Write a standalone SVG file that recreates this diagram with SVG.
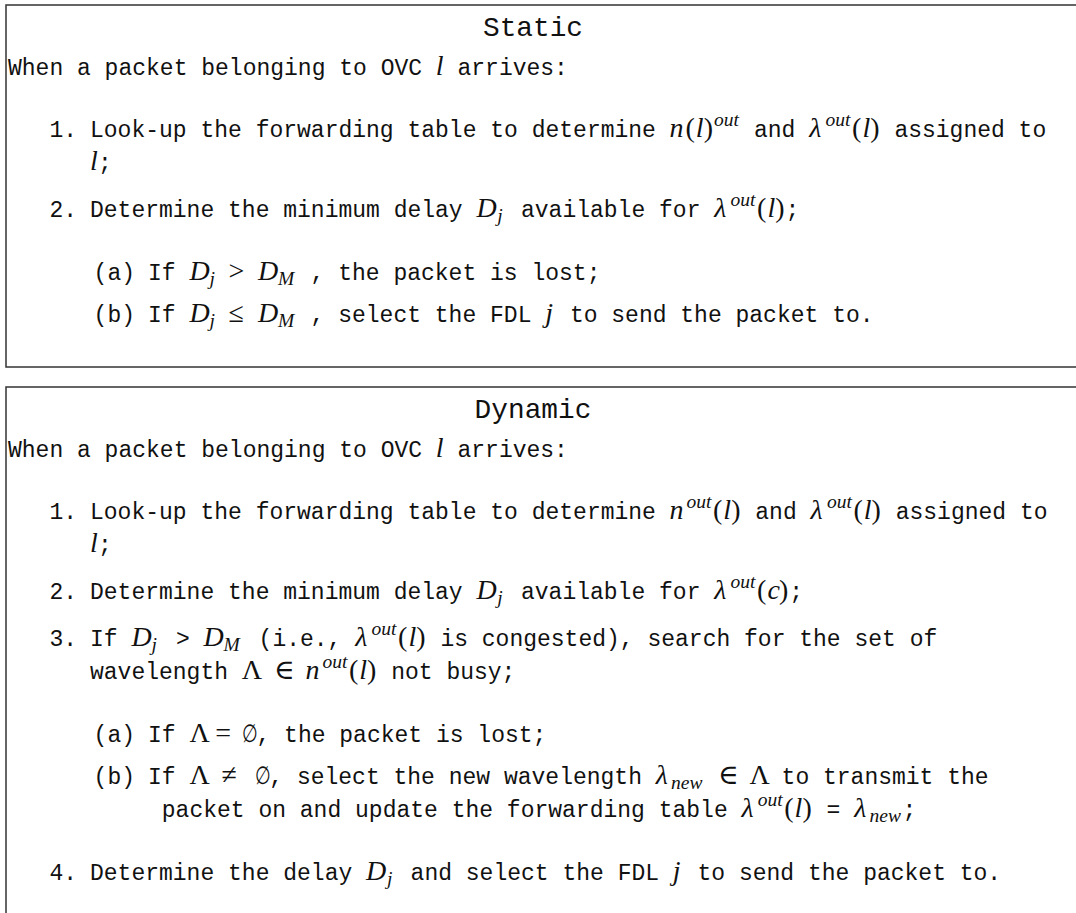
<svg xmlns="http://www.w3.org/2000/svg" width="1076" height="913" viewBox="0 0 1076 913">
<style>
.box{fill:none;stroke:#333;stroke-width:1.5}
.tt{font-family:"Liberation Mono","DejaVu Sans Mono",monospace;font-size:23px;fill:#111}
.h{font-size:27.8px}
.mi{font-family:"Liberation Serif","DejaVu Serif",serif;font-style:italic;font-size:28px;fill:#111}
.mr{font-family:"Liberation Serif","DejaVu Serif",serif;font-style:normal;font-size:28px;fill:#111}
.s{font-size:19.5px;font-style:italic}
.es{font-family:"DejaVu Serif","Liberation Serif",serif;font-style:normal;font-size:25px;fill:#111}
</style>
<rect width="1076" height="913" fill="#fff"/>
<g id="static">
<rect class="box" x="6" y="5" width="1090" height="362"/>
<text class="tt h" x="533" y="36" text-anchor="middle">Static</text>
<text class="tt" x="8" y="75">When a packet belonging to OVC</text>
<text class="mi" x="435.8" y="75">l</text>
<text class="tt" x="457.5" y="75">arrives:</text>
<text class="tt" x="77" y="137" text-anchor="end">1.</text>
<text class="tt" x="90" y="137">Look-up the forwarding table to determine</text>
<text class="mi" y="137"><tspan x="669.6">n</tspan><tspan class="mr" x="685.5">(</tspan><tspan x="695.8">l</tspan><tspan class="mr" x="703.7">)</tspan><tspan class="s" x="714" y="126">out</tspan></text>
<text class="tt" x="754" y="137">and</text>
<text class="mi" y="137"><tspan x="809.2">λ</tspan><tspan class="s" x="825.6" y="126">out</tspan><tspan class="mr" x="852.1" y="137">(</tspan><tspan x="862.4">l</tspan><tspan class="mr" x="870.3">)</tspan></text>
<text class="tt" x="894.4" y="137">assigned to</text>
<text class="mi" x="90" y="170">l</text>
<text class="tt" x="97.9" y="170">;</text>
<text class="tt" x="77" y="217" text-anchor="end">2.</text>
<text class="tt" x="90" y="217">Determine the minimum delay</text>
<text class="mi" y="217"><tspan x="476.4">D</tspan><tspan class="s" x="497.3" y="222">j</tspan></text>
<text class="tt" x="521" y="217">available for</text>
<text class="mi" y="217"><tspan x="714.2">λ</tspan><tspan class="s" x="730.6" y="206">out</tspan><tspan class="mr" x="757.1" y="217">(</tspan><tspan x="767.4">l</tspan><tspan class="mr" x="775.3">)</tspan></text>
<text class="tt" x="785.6" y="217">;</text>
<text class="tt" x="135" y="280" text-anchor="end">(a)</text>
<text class="tt" x="148" y="280">If</text>
<text class="mi" y="280"><tspan x="189.4">D</tspan><tspan class="s" x="209.5" y="285">j</tspan><tspan class="mr" x="228.5" y="280">&gt;</tspan><tspan x="258">D</tspan><tspan class="s" x="278" y="285">M</tspan></text>
<text class="tt" x="310.6" y="280">, the packet is lost;</text>
<text class="tt" x="135" y="322" text-anchor="end">(b)</text>
<text class="tt" x="148" y="322">If</text>
<text class="mi" y="322"><tspan x="189.4">D</tspan><tspan class="s" x="209.5" y="327">j</tspan><tspan class="mr" x="228.5" y="322">≤</tspan><tspan x="258">D</tspan><tspan class="s" x="278" y="327">M</tspan></text>
<text class="tt" x="310.6" y="322">, select the FDL</text>
<text class="mi" x="545.2" y="322">j</text>
<text class="tt" x="569.9" y="322">to send the packet to.</text>
</g>
<g id="dynamic">
<rect class="box" x="6" y="387" width="1090" height="600"/>
<text class="tt h" x="533" y="418" text-anchor="middle">Dynamic</text>
<text class="tt" x="8" y="457">When a packet belonging to OVC</text>
<text class="mi" x="435.8" y="457">l</text>
<text class="tt" x="457.5" y="457">arrives:</text>
<text class="tt" x="77" y="519" text-anchor="end">1.</text>
<text class="tt" x="90" y="519">Look-up the forwarding table to determine</text>
<text class="mi" y="519"><tspan x="669.6">n</tspan><tspan class="s" x="686.5" y="508">out</tspan><tspan class="mr" x="713" y="519">(</tspan><tspan x="723.3">l</tspan><tspan class="mr" x="731.2">)</tspan></text>
<text class="tt" x="755.3" y="519">and</text>
<text class="mi" y="519"><tspan x="810.5">λ</tspan><tspan class="s" x="826.9" y="508">out</tspan><tspan class="mr" x="853.4" y="519">(</tspan><tspan x="863.7">l</tspan><tspan class="mr" x="871.6">)</tspan></text>
<text class="tt" x="895.7" y="519">assigned to</text>
<text class="mi" x="90" y="552">l</text>
<text class="tt" x="97.9" y="552">;</text>
<text class="tt" x="77" y="599" text-anchor="end">2.</text>
<text class="tt" x="90" y="599">Determine the minimum delay</text>
<text class="mi" y="599"><tspan x="476.4">D</tspan><tspan class="s" x="497.3" y="604">j</tspan></text>
<text class="tt" x="521" y="599">available for</text>
<text class="mi" y="599"><tspan x="714.2">λ</tspan><tspan class="s" x="730.6" y="588">out</tspan><tspan class="mr" x="757.1" y="599">(</tspan><tspan x="767.4">c</tspan><tspan class="mr" x="778.9">)</tspan></text>
<text class="tt" x="789.2" y="599">;</text>
<text class="tt" x="77" y="646" text-anchor="end">3.</text>
<text class="tt" x="90" y="646">If</text>
<text class="mi" y="646"><tspan x="131.4">D</tspan><tspan class="s" x="151.5" y="651">j</tspan></text>
<text class="tt" x="176" y="646">&gt;</text>
<text class="mi" y="646"><tspan x="203.6">D</tspan><tspan class="s" x="223.5" y="651">M</tspan></text>
<text class="tt" x="258.6" y="646">(i.e.,</text>
<text class="mi" y="646"><tspan x="355.2">λ</tspan><tspan class="s" x="371.6" y="635">out</tspan><tspan class="mr" x="398.1" y="646">(</tspan><tspan x="408.4">l</tspan><tspan class="mr" x="416.3">)</tspan></text>
<text class="tt" x="440.4" y="646">is congested), search for the set of</text>
<text class="tt" x="90" y="679">wavelength</text>
<text class="mr" x="241.8" y="679">Λ</text>
<text class="mr" x="274" y="679">∈</text>
<text class="mi" y="679"><tspan x="305.5">n</tspan><tspan class="s" x="322.4" y="668">out</tspan><tspan class="mr" x="348.9" y="679">(</tspan><tspan x="359.2">l</tspan><tspan class="mr" x="367.1">)</tspan></text>
<text class="tt" x="391.2" y="679">not busy;</text>
<text class="tt" x="135" y="742" text-anchor="end">(a)</text>
<text class="tt" x="148" y="742">If</text>
<text class="mr" y="742"><tspan x="189.4">Λ</tspan><tspan x="215.2">=</tspan></text>
<text class="es" x="0" y="0" text-anchor="middle" transform="translate(249.9 742) scale(0.72 1)">∅</text>
<text class="tt" x="256.5" y="742">, the packet is lost;</text>
<text class="tt" x="135" y="784" text-anchor="end">(b)</text>
<text class="tt" x="148" y="784">If</text>
<text class="mr" y="784"><tspan x="189.4">Λ</tspan><tspan x="221.6">≠</tspan></text>
<text class="es" x="0" y="0" text-anchor="middle" transform="translate(262.6 784) scale(0.72 1)">∅</text>
<text class="tt" x="269.3" y="784">, select the new wavelength</text>
<text class="mi" y="784"><tspan x="655.7">λ</tspan><tspan class="s" x="671.1" y="789">new</tspan></text>
<text class="mr" y="784"><tspan x="717.9">∈</tspan><tspan x="749.4">Λ</tspan></text>
<text class="tt" x="781.6" y="784">to transmit the</text>
<text class="tt" x="161.8" y="817">packet on and update the forwarding table</text>
<text class="mi" y="817"><tspan x="741.4">λ</tspan><tspan class="s" x="757.8" y="806">out</tspan><tspan class="mr" x="784.3" y="817">(</tspan><tspan x="794.6">l</tspan><tspan class="mr" x="802.5">)</tspan></text>
<text class="tt" x="826.6" y="817">=</text>
<text class="mi" y="817"><tspan x="854.2">λ</tspan><tspan class="s" x="869.6" y="822">new</tspan></text>
<text class="tt" x="902.6" y="817">;</text>
<text class="tt" x="77" y="880" text-anchor="end">4.</text>
<text class="tt" x="90" y="880">Determine the delay</text>
<text class="mi" y="880"><tspan x="366">D</tspan><tspan class="s" x="386.9" y="885">j</tspan></text>
<text class="tt" x="410.6" y="880">and select the FDL</text>
<text class="mi" x="672.8" y="880">j</text>
<text class="tt" x="697.5" y="880">to send the packet to.</text>
</g>
</svg>
